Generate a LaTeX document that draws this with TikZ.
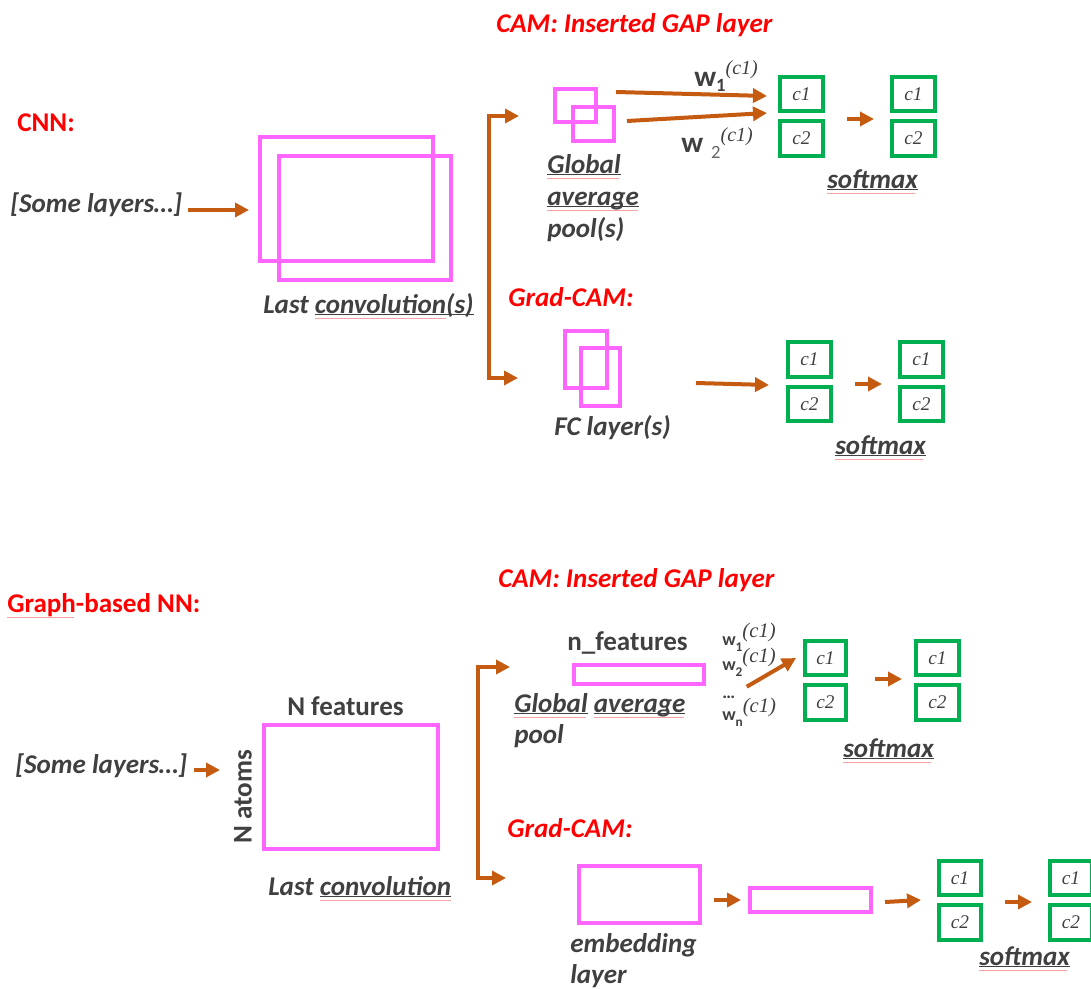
\documentclass[tikz,border=0pt]{standalone}
\usepackage{fontspec}
\setmainfont{Carlito}
\newfontfamily\mathlike{Liberation Serif}
\usetikzlibrary{arrows.meta,calc,fit}

\definecolor{ink}{HTML}{404040}
\definecolor{hot}{HTML}{FF0000}
\definecolor{mag}{HTML}{FF66FF}
\definecolor{grn}{HTML}{00B050}
\definecolor{rust}{HTML}{C55A11}
\definecolor{spell}{HTML}{F5A3A3}

% underline, spell-check squiggle, and both together
\newlength\ulwd
\newcommand\squig[1]{\makebox[0pt][l]{\textcolor{spell}{\leaders\hbox{\rule[-4.4pt]{1pt}{0.35pt}\rule[-3.9pt]{1pt}{0.35pt}}\hskip#1}}}
\newcommand\ulbar[1]{\makebox[0pt][l]{\rule[-1.6pt]{#1}{0.75pt}}}
\newcommand\ulw[1]{\settowidth\ulwd{#1}\ulbar{\ulwd}\squig{\ulwd}#1}
\newcommand\wvy[1]{\settowidth\ulwd{#1}\squig{\ulwd}#1}
\newcommand\ulo[1]{\settowidth\ulwd{#1}\ulbar{\ulwd}#1}

\newcommand\wbig{\fontsize{22}{24}\selectfont\bfseries}
\newcommand\wsmall{\fontsize{13.5}{15}\selectfont\bfseries}
\newcommand\supc[1]{{\mathlike\mdseries\itshape\fontsize{#1}{#1}\selectfont (c1)}}

\tikzset{
  lbl/.style={font=\fontsize{20.3}{24}\selectfont\bfseries\itshape, text=ink, inner sep=0, anchor=base west},
  ttl/.style={font=\fontsize{20.3}{24}\selectfont\bfseries\itshape, text=hot, inner sep=0, anchor=base west},
  hdr/.style={font=\fontsize{20.3}{24}\selectfont\bfseries, text=hot, inner sep=0, anchor=base west},
  dimtxt/.style={font=\fontsize{20.3}{24}\selectfont\bfseries, text=ink, inner sep=0, anchor=base west},
  wtxt/.style={text=ink, inner sep=0, anchor=base west},
  magbox/.style={draw=mag, line width=3pt, inner sep=0},
  clsbox/.style={draw=grn, line width=3pt, inner sep=0,
    label={[text=ink, inner sep=0, font=\mathlike\itshape\fontsize{14.5}{16}\selectfont]center:#1}},
  arr/.style={draw=rust, line width=3pt, -{Triangle[length=10.5pt,width=10.5pt]}},
}

\begin{document}
\begin{tikzpicture}[x=0.75pt,y=-0.75pt]
\useasboundingbox (0,0) rectangle (1091,988);

% ================= CNN =================
\node[hdr] (cnn) at (17,132) {CNN:};
\node[ttl] (camA) at (496,33) {CAM: Inserted GAP layer};
\node[lbl] (someA) at (10,212) {[Some layers…]};

\node[magbox, fit={(260,137) (433,261)}] (convA1) {};
\node[magbox, fit={(279,156) (451,280)}] (convA2) {};
\node[lbl] (lastA) at (263,313) {Last \ulw{convolution}\ulo{(s)}};

% split to the two explanation branches
\coordinate (brA) at (489,247);
\coordinate (gapIn) at (519,116);
\coordinate (fcIn) at (518,378);

% --- CAM branch
\node[magbox, fit={(555,89) (596,122)}] (gapA1) {};
\node[magbox, fit={(573,107) (614,141)}] (gapA2) {};
\node[lbl] (glA1) at (547,173) {\ulw{Global}};
\node[lbl] (glA2) at (547,205) {\ulw{average}};
\node[lbl] (glA3) at (547,237) {pool(s)};

\node[wtxt] (w1A) at (694,87) {\wbig w\raisebox{-3.5pt}{\fontsize{14}{14}\selectfont\bfseries 1}\raisebox{9pt}{\supc{15}}};
\node[wtxt] (w2A) at (681,152) {\wbig w\hspace{6pt}\raisebox{-4.5pt}{\fontsize{14}{14}\selectfont\mdseries\color{ink!80}2}\raisebox{8pt}{\supc{15}}};

\node[clsbox=c1, fit={(780,77) (823,111)}] (cA1) {};
\node[clsbox=c2, fit={(780,121) (823,156)}] (cA2) {};
\node[clsbox=c1, fit={(892,77) (935,111)}] (sA1) {};
\node[clsbox=c2, fit={(892,121) (935,156)}] (sA2) {};
\node[lbl] (smA) at (827,188) {\ulw{softmax}};

% --- Grad-CAM branch
\node[ttl] (gradA) at (508,306) {Grad-CAM:};
\node[magbox, fit={(565,331) (607,388)}] (fcA1) {};
\node[magbox, fit={(581,348) (620,406)}] (fcA2) {};
\node[lbl] (fcLbl) at (554,435) {FC layer(s)};

\node[clsbox=c1, fit={(788,342) (831,377)}] (cB1) {};
\node[clsbox=c2, fit={(788,387) (831,421)}] (cB2) {};
\node[clsbox=c1, fit={(900,342) (943,377)}] (sB1) {};
\node[clsbox=c2, fit={(900,387) (943,421)}] (sB2) {};
\node[lbl] (smB) at (835,454) {\ulw{softmax}};

% connectors (top)
\draw[arr] ($(convA1.west)+(-70,11)$) -- ($(convA1.west)+(-9,11)$);
\draw[arr] (brA) |- (gapIn);
\draw[arr] (brA) |- (fcIn);
\draw[arr] ($(gapA2.north east)+(0,-13)$) -- ($(cA1.west)+(-11,2)$);
\draw[arr] ($(gapA2.east)+(11,-3)$) -- ($(cA1.south west)+(-11,0)$);
\draw[arr] ($(cA2.north east)+(22,0)$) -- ($(sA2.north west)+(-16,0)$);
\draw[arr] ($(fcA2.east)+(74,6)$) -- ($(cB1.south west)+(-17,6)$);
\draw[arr] ($(cB2.north east)+(22,-1)$) -- ($(sB2.north west)+(-16,-1)$);

% ================= Graph-based NN =================
\node[hdr] (gnn) at (7,612) {\wvy{Graph}-based NN:};
\node[ttl] (camB) at (498,587) {CAM: Inserted GAP layer};
\node[lbl] (someB) at (15,773) {[Some layers…]};

\node[magbox, fit={(264,725) (438,849)}] (graph) {};
\node[dimtxt] (nfeat) at (287,715) {N features};
\node[dimtxt, anchor=center, rotate=90] (natoms) at (243,797) {N atoms};
\node[lbl] (lastB) at (268,895) {Last \ulw{convolution}};

\coordinate (brB) at (478,772);
\coordinate (nfIn) at (510,667);
\coordinate (embIn) at (506,878);

% --- CAM branch
\node[dimtxt] (nfLbl) at (567,650) {n\_features};
\node[magbox, line width=2.6pt, fit={(574,665) (704,684)}] (pool) {};
\node[lbl] (glB1) at (514,712) {\ulw{Global} \ulw{average}};
\node[lbl] (glB2) at (514,743) {pool};

\node[wtxt] (w1B) at (722,645) {\wsmall w\raisebox{-5pt}{\fontsize{10}{10}\selectfont\bfseries 1}\raisebox{6pt}{\supc{15.5}}};
\node[wtxt] (w2B) at (722,670) {\wsmall w\raisebox{-5pt}{\fontsize{10}{10}\selectfont\bfseries 2}\raisebox{6pt}{\supc{15.5}}};
\node[wtxt] (wdB) at (722,698) {\wsmall …};
\node[wtxt] (wnB) at (722,720) {\wsmall w\raisebox{-5pt}{\fontsize{10}{10}\selectfont\bfseries n}\raisebox{6pt}{\supc{15.5}}};

\node[clsbox=c1, fit={(805,641) (846,675)}] (cC1) {};
\node[clsbox=c2, fit={(805,685) (846,720)}] (cC2) {};
\node[clsbox=c1, fit={(916,641) (959,675)}] (sC1) {};
\node[clsbox=c2, fit={(916,685) (959,720)}] (sC2) {};
\node[lbl] (smC) at (843,757) {\ulw{softmax}};

% --- Grad-CAM branch
\node[ttl] (gradB) at (507,837) {Grad-CAM:};
\node[magbox, fit={(579,866) (700,923)}] (embed) {};
\node[lbl] (embLbl1) at (570,952) {embedding};
\node[lbl] (embLbl2) at (570,983) {layer};
\node[magbox, fit={(750,888) (871,912)}] (hidden) {};

\node[clsbox=c1, fit={(939,861) (981,895)}] (cD1) {};
\node[clsbox=c2, fit={(939,905) (981,940)}] (cD2) {};
\node[clsbox=c1, fit={(1050,861) (1092,895)}] (sD1) {};
\node[clsbox=c2, fit={(1050,905) (1092,940)}] (sD2) {};
\node[lbl] (smD) at (979,965) {\ulw{softmax}};

% connectors (bottom)
\draw[arr] ($(graph.west)+(-68,-17)$) -- ($(graph.west)+(-42,-17)$);
\draw[arr] (brB) |- (nfIn);
\draw[arr] (brB) |- (embIn);
\draw[arr] ($(pool.south east)+(41,1)$) -- ($(cC1.west)+(-7,0)$);
\draw[arr] ($(cC2.north east)+(27,-4)$) -- ($(sC2.north west)+(-12,-4)$);
\draw[arr] ($(embed.east)+(12,5.5)$) -- ($(hidden.west)+(-7,0)$);
\draw[arr] ($(hidden.east)+(12,2)$) -- ($(cD2.north west)+(-16,-3)$);
\draw[arr] ($(cD2.north east)+(22,-1)$) -- ($(sD2.north west)+(-16,-1)$);
\end{tikzpicture}
\end{document}
